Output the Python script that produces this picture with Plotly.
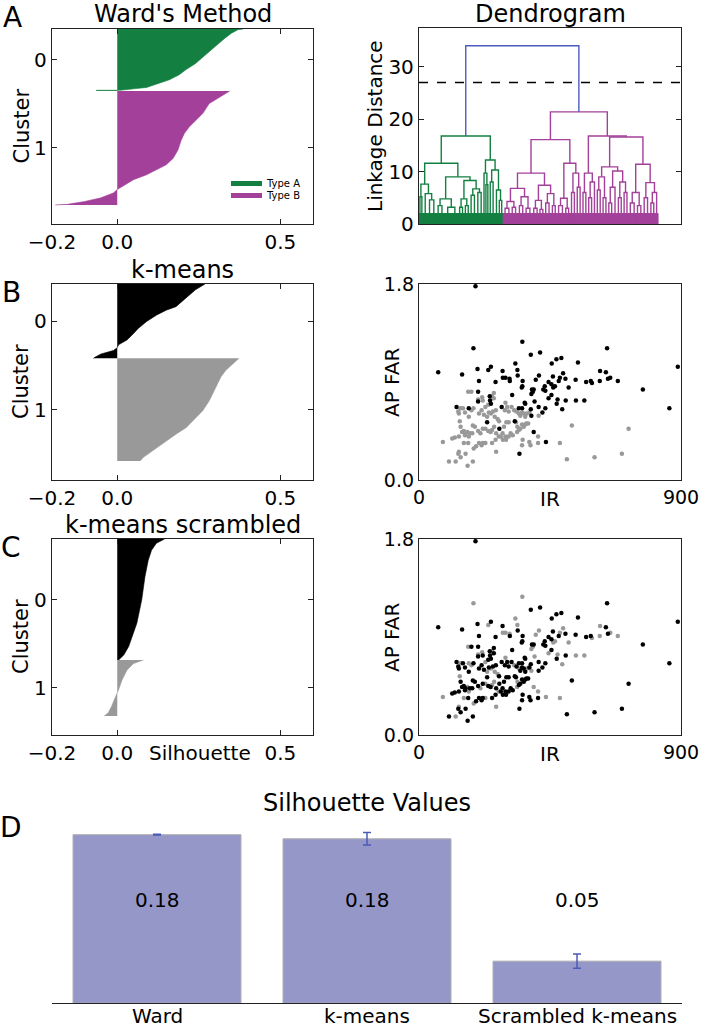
import plotly.graph_objects as go

W, H = 704, 1028
FONT = "DejaVu Sans"

GREEN = "#138042"
MAGENTA = "#a3419a"
BLUE = "#4a5cc0"
GRAY = "#999999"
BAR_COLOR = "#9597c9"
ERR_COLOR = "#4a5ab8"

# ---------------- silhouette profiles (rank within cluster, silhouette value) ----------------
WARD_SIZES = [88, 162]
WARD_C0_RANK = [0, 1, 6, 13, 25, 37, 49, 58, 65, 72, 77, 83, 85, 87, 87, 88]
WARD_C0_SIL = [0.386, 0.37, 0.35, 0.33, 0.30, 0.27, 0.24, 0.21, 0.19, 0.16, 0.13, 0.09, 0.05, 0.01, -0.064, -0.064]
WARD_C1_RANK = [0, 8, 18, 32, 41, 51, 60, 70, 84, 96, 105, 112, 119, 126, 134, 140, 145, 152, 157, 161, 162]
WARD_C1_SIL = [0.345, 0.315, 0.282, 0.262, 0.241, 0.221, 0.206, 0.196, 0.186, 0.171, 0.15, 0.12,
               0.09, 0.05, 0.019, 0.0, -0.012, -0.052, -0.10, -0.152, -0.19]

KM_SIZES = [105, 145]
KM_C0_RANK = [0, 8, 20, 32, 37, 44, 53, 63, 70, 79, 86, 90, 94, 96, 99, 104, 105]
KM_C0_SIL = [0.269, 0.24, 0.21, 0.18, 0.15, 0.12, 0.09, 0.064, 0.05, 0.03, 0.004, 0.0, -0.012, -0.03, -0.05, -0.07, -0.073]
KM_C1_RANK = [0, 8, 17, 26, 41, 60, 74, 84, 98, 107, 117, 131, 140, 145]
KM_C1_SIL = [0.373, 0.353, 0.333, 0.318, 0.302, 0.282, 0.262, 0.241, 0.211, 0.181, 0.15, 0.11, 0.08, 0.07]

SCR_SIZES = [171, 79]
SCR_C0_RANK = [0, 6, 16, 30, 53, 86, 119, 133, 152, 164, 171]
SCR_C0_SIL = [0.145, 0.12, 0.105, 0.095, 0.085, 0.075, 0.06, 0.05, 0.035, 0.02, 0.004]
SCR_C1_RANK = [0, 5, 14, 28, 42, 49, 56, 66, 75, 78, 79]
SCR_C1_SIL = [0.08, 0.05, 0.03, 0.015, 0.004, -0.002, -0.008, -0.018, -0.028, -0.04, -0.04]

SIL_YMAX = 277

# ---------------- dendrogram (height, left, right); ints = groups of leaves ----------------
GREEN_TREE = [16.8,
              [11.6,
               [7.6, [5.2, 2, 2], [5.8, 5, [4.6, 4, 5]]],
               [9.0,
                [4.8, [3.5, 4, 4], [3.2, 8, 7]],
                [8.3, [4.8, [3.2, 3, 3], [3.5, 3, 3]], [6.7, [5.5, 3, 4], [6.0, 3, 4]]]]],
              [12.2,
               [9.7, 2, [7.5, 2, 2]],
               [10.3, [8.0, 3, 3], [6.5, 4, [4.5, 2, 3]]]]]
MAGENTA_TREE = [21.4,
                [16.1,
                 [9.7,
                  [6.8, [4.3, [3.0, 4, 4], [3.2, 3, 4]], [5.2, [3.5, 4, 3], [3.0, 4, 4]]],
                  [7.4, [4.5, [3.0, 4, 3], [2.8, 3, 3]], [5.8, [4.0, 3, 4], [3.5, 3, 3]]]],
                 [11.6,
                  [4.9, [3.5, 4, 4], [3.0, 3, 3]],
                  [9.7, [6.0, 3, 3], [7.0, 3, 3]]]],
                [16.8,
                 [9.7, [6.0, 3, 3], [8.0, [5.0, 3, 3], 3]],
                 [16.6,
                  [10.9,
                   [9.0, [6.5, 3, 3], [5.0, 3, 3]],
                   [10.1, [7.0, [4.0, 3, 3], 4], [8.0, [5.0, 3, 3], [6.0, 3, 3]]]],
                  [11.4,
                   [6.0, [4.0, 4, 4], [3.5, 3, 4]],
                   [7.9, [5.0, 3, 4], [6.0, [4.0, 3, 3], 3]]]]]]
ROOT_HEIGHT = 34.0
CUT_HEIGHT = 27.0
GRASS_H = 2.0
DENDRO_XMAX = 2740
DENDRO_YMAX = 37.4

# ---------------- scatter data: IR vs AP FAR ----------------
KM0_IR = [194, 66, 148, 187, 201, 206, 203, 238, 247, 287, 288, 297, 311, 312, 263, 331, 338, 339, 355, 355,
          356, 384, 416, 401, 412, 456, 472, 489, 460, 461, 467, 480, 484, 495, 503, 455, 445, 432, 427, 434,
          514, 546, 538, 574, 590, 594, 622, 642, 649, 657, 646, 683, 621, 769, 860, 889, 388, 394, 391, 386,
          397, 411, 424, 434, 445, 455, 473, 476, 492, 504, 539, 568, 365, 363, 343, 354, 384, 386, 353, 320,
          284, 243, 244, 247, 234, 203, 171, 129, 276, 329, 394, 436, 345]
KM0_FAR = [1.78, 0.99, 0.97, 1.21, 1.02, 0.91, 0.81, 1.01, 1.04, 1.00, 0.94, 0.94, 0.93, 0.91, 0.90, 1.07, 1.01, 0.96, 1.27, 0.86,
           0.91, 1.15, 1.17, 0.92, 0.96, 1.07, 1.11, 1.12, 0.95, 0.85, 0.86, 0.91, 0.94, 0.98, 0.93, 0.88, 0.90, 0.86, 0.83, 0.82,
           0.85, 1.08, 0.92, 0.90, 0.91, 0.89, 1.00, 0.99, 0.93, 0.94, 1.21, 0.91, 0.91, 0.83, 0.66, 1.04, 0.83, 0.83, 0.81, 0.79,
           0.72, 0.67, 0.62, 0.66, 0.75, 0.78, 0.70, 0.74, 0.65, 0.73, 0.73, 0.73, 0.70, 0.71, 0.66, 0.66, 0.65, 0.59, 0.85, 0.78,
           0.67, 0.77, 0.73, 0.70, 0.53, 0.72, 0.66, 0.67, 0.47, 0.54, 0.44, 0.35, 0.24]
KM0_SCR = [0, 0, 0, 1, 0, 0, 0, 1, 0, 0, 1, 1, 1, 0, 0, 1, 1, 0, 1, 0,
           0, 0, 0, 1, 1, 0, 0, 0, 0, 1, 1, 0, 1, 1, 0, 0, 0, 0, 0, 0,
           1, 0, 0, 0, 0, 1, 1, 0, 0, 1, 0, 1, 1, 0, 0, 0, 0, 0, 1, 1,
           1, 0, 0, 0, 1, 0, 0, 1, 1, 0, 1, 1, 0, 0, 0, 0, 0, 1, 0, 0,
           0, 0, 0, 0, 0, 0, 1, 0, 0, 0, 1, 1, 0]

KM1_IR = [169, 180, 203, 217, 219, 238, 251, 257, 257, 228, 137, 135, 143, 151, 158, 171, 180, 187, 206, 215,
          223, 234, 240, 247, 254, 260, 264, 270, 275, 297, 303, 295, 308, 318, 327, 335, 343, 348, 354, 360,
          365, 371, 379, 375, 140, 143, 148, 154, 160, 166, 158, 171, 175, 185, 192, 203, 211, 219, 228, 238,
          246, 251, 258, 265, 274, 281, 287, 292, 300, 308, 82, 114, 123, 137, 154, 169, 183, 188, 196, 206,
          215, 219, 228, 251, 263, 288, 299, 308, 338, 343, 348, 354, 360, 365, 369, 337, 333, 103, 126, 135,
          137, 143, 160, 167, 185, 265, 356, 379, 383, 409, 409, 411, 484, 525, 508, 603, 697, 720, 354, 315,
          297, 322]
KM1_FAR = [0.81, 0.81, 0.74, 0.76, 0.73, 0.69, 0.77, 0.80, 0.75, 0.67, 0.61, 0.63, 0.66, 0.66, 0.62, 0.58, 0.64, 0.66, 0.61, 0.64,
           0.60, 0.58, 0.62, 0.61, 0.63, 0.58, 0.64, 0.56, 0.54, 0.71, 0.67, 0.64, 0.63, 0.67, 0.64, 0.63, 0.61, 0.59, 0.62, 0.61,
           0.58, 0.61, 0.62, 0.52, 0.54, 0.49, 0.44, 0.45, 0.43, 0.44, 0.41, 0.40, 0.43, 0.50, 0.49, 0.45, 0.43, 0.47, 0.47, 0.45,
           0.44, 0.46, 0.49, 0.43, 0.40, 0.40, 0.43, 0.49, 0.53, 0.53, 0.35, 0.38, 0.39, 0.40, 0.34, 0.34, 0.43, 0.29, 0.31, 0.34,
           0.32, 0.34, 0.34, 0.34, 0.37, 0.37, 0.37, 0.40, 0.49, 0.46, 0.47, 0.51, 0.49, 0.51, 0.52, 0.44, 0.53, 0.17, 0.17, 0.24,
           0.26, 0.21, 0.24, 0.13, 0.17, 0.26, 0.37, 0.35, 0.32, 0.40, 0.34, 0.59, 0.34, 0.50, 0.19, 0.21, 0.24, 0.47, 0.32, 0.43,
           0.40, 0.41]
KM1_SCR = [1, 0, 1, 1, 0, 0, 1, 0, 0, 1, 0, 0, 1, 0, 0, 0, 1, 0, 0, 0,
           0, 1, 0, 1, 0, 1, 0, 1, 0, 1, 0, 0, 0, 0, 1, 0, 1, 0, 0, 0,
           0, 1, 0, 0, 1, 0, 0, 0, 0, 1, 0, 1, 0, 0, 0, 0, 1, 0, 1, 0,
           0, 1, 1, 0, 1, 0, 0, 0, 0, 0, 1, 0, 0, 0, 1, 0, 0, 1, 0, 0,
           0, 0, 1, 0, 0, 0, 0, 0, 1, 0, 0, 0, 0, 0, 0, 1, 0, 0, 1, 0,
           1, 0, 0, 0, 0, 1, 0, 0, 0, 1, 0, 0, 1, 0, 0, 0, 0, 0, 0, 0,
           0, 0]

# ---------------- bar chart ----------------
BAR_LABELS = ["Ward", "k-means", "Scrambled k-means"]
BAR_MEANS = [0.184, 0.1795, 0.046]
BAR_ERR = [0.0005, 0.0068, 0.0077]
BAR_TEXT_Y = 0.1125


def fx(p):
    return p / W


def fy(p):
    return 1 - p / H


fig = go.Figure()


def sil(rank, vals, offset, color, n):
    fig.add_trace(go.Scatter(
        x=vals, y=[offset + r for r in rank], mode="lines", fill="tozerox",
        fillcolor=color, line=dict(color=color, width=0.6),
        xaxis="x" + n, yaxis="y" + n, hoverinfo="skip", showlegend=False))


sil(WARD_C0_RANK, WARD_C0_SIL, 0, GREEN, "")
sil(WARD_C1_RANK, WARD_C1_SIL, WARD_SIZES[0], MAGENTA, "")
sil(KM_C0_RANK, KM_C0_SIL, 0, "black", "3")
sil(KM_C1_RANK, KM_C1_SIL, KM_SIZES[0], GRAY, "3")
sil(SCR_C0_RANK, SCR_C0_SIL, 0, "black", "5")
sil(SCR_C1_RANK, SCR_C1_SIL, SCR_SIZES[0], GRAY, "5")


def build(node, start, xs, ys, gx, gy):
    if isinstance(node, int):
        x0, x1 = 10 * start, 10 * (start + node)
        gx += [x0, x0, x1, x1, None]
        gy += [0, GRASS_H, GRASS_H, 0, None]
        return (x0 + x1) / 2, GRASS_H, start + node
    h, left, right = node
    xl, hl, nxt = build(left, start, xs, ys, gx, gy)
    xr, hr, nxt = build(right, nxt, xs, ys, gx, gy)
    xs += [xl, xl, xr, xr, None]
    ys += [hl, h, h, hr, None]
    return (xl + xr) / 2, h, nxt


gxs, gys, ggx, ggy = [], [], [], []
xg, hg, nxt = build(GREEN_TREE, 0, gxs, gys, ggx, ggy)
mxs, mys, mgx, mgy = [], [], [], []
xm, hm, nxt = build(MAGENTA_TREE, nxt, mxs, mys, mgx, mgy)

for gx_, gy_, col in [(ggx, ggy, GREEN), (mgx, mgy, MAGENTA)]:
    fig.add_trace(go.Scatter(x=gx_, y=gy_, mode="lines", fill="toself", fillcolor=col,
                             line=dict(color=col, width=1), xaxis="x2", yaxis="y2",
                             hoverinfo="skip", showlegend=False))
for xs_, ys_, col in [(gxs, gys, GREEN), (mxs, mys, MAGENTA)]:
    fig.add_trace(go.Scatter(x=xs_, y=ys_, mode="lines", line=dict(color=col, width=1.4),
                             xaxis="x2", yaxis="y2", hoverinfo="skip", showlegend=False))
fig.add_trace(go.Scatter(x=[xg, xg, xm, xm], y=[hg, ROOT_HEIGHT, ROOT_HEIGHT, hm], mode="lines",
                         line=dict(color=BLUE, width=1.4), xaxis="x2", yaxis="y2",
                         hoverinfo="skip", showlegend=False))
fig.add_trace(go.Scatter(x=[0, DENDRO_XMAX], y=[CUT_HEIGHT, CUT_HEIGHT], mode="lines",
                         line=dict(color="black", width=1.3, dash="dash"), xaxis="x2", yaxis="y2",
                         hoverinfo="skip", showlegend=False))

mk = dict(size=4.5, line=dict(width=0))
fig.add_trace(go.Scatter(x=KM1_IR, y=KM1_FAR, mode="markers", marker=dict(color=GRAY, **mk),
                         xaxis="x4", yaxis="y4", hoverinfo="skip", showlegend=False))
fig.add_trace(go.Scatter(x=KM0_IR, y=KM0_FAR, mode="markers", marker=dict(color="black", **mk),
                         xaxis="x4", yaxis="y4", hoverinfo="skip", showlegend=False))

all_ir = KM0_IR + KM1_IR
all_far = KM0_FAR + KM1_FAR
all_scr = KM0_SCR + KM1_SCR
for lab, col in [(1, GRAY), (0, "black")]:
    fig.add_trace(go.Scatter(
        x=[a for a, s in zip(all_ir, all_scr) if s == lab],
        y=[b for b, s in zip(all_far, all_scr) if s == lab],
        mode="markers", marker=dict(color=col, **mk),
        xaxis="x6", yaxis="y6", hoverinfo="skip", showlegend=False))

fig.add_trace(go.Bar(x=list(range(len(BAR_LABELS))), y=BAR_MEANS, width=0.8,
                     marker=dict(color=BAR_COLOR, line=dict(color="#b0b0b0", width=1)),
                     error_y=dict(type="data", array=BAR_ERR, color=ERR_COLOR, thickness=1.5, width=4),
                     xaxis="x7", yaxis="y7", hoverinfo="skip", showlegend=False))

# ---------------- axes ----------------
tick_font = dict(family=FONT, size=20, color="black")
base = dict(showgrid=False, zeroline=False, showline=True, linecolor="#222222", linewidth=1.3,
            mirror="ticks", ticks="inside", ticklen=5, tickwidth=1, tickcolor="#222222",
            tickfont=tick_font, automargin=False, layer="above traces")

SIL_X = [52, 313]
RIGHT_X = [419, 681]
ROWS = {"A": [29, 224], "B": [284, 480], "C": [539, 735]}


def dom_x(a):
    return [fx(a[0]), fx(a[1])]


def dom_y(a):
    return [fy(a[1]), fy(a[0])]


sil_x = dict(base, range=[-0.2, 0.6], tickvals=[-0.2, 0.0, 0.5], ticktext=["\u22120.2", "0.0", "0.5"])


def sil_y(sizes):
    return dict(base, range=[SIL_YMAX, 0], tickvals=[sizes[0] / 2, sizes[0] + sizes[1] / 2],
                ticktext=["0", "1"])


sc_font = dict(family=FONT, size=19, color="black")
sc_x = dict(base, range=[0, 900], tickvals=[0, 900], ticktext=["0", "900"], tickfont=sc_font)
sc_y = dict(base, range=[0, 1.8], tickvals=[0, 1.8], ticktext=["0.0", "1.8"], tickfont=sc_font)

layout = dict(
    template="none",
    width=W, height=H, autosize=False, margin=dict(l=0, r=0, t=0, b=0, pad=0),
    paper_bgcolor="white", plot_bgcolor="white", showlegend=False,
    font=dict(family=FONT, color="black"),
    xaxis=dict(sil_x, domain=dom_x(SIL_X), anchor="y"),
    yaxis=dict(sil_y(WARD_SIZES), domain=dom_y(ROWS["A"]), anchor="x"),
    xaxis2=dict(base, domain=dom_x(RIGHT_X), anchor="y2", range=[0, DENDRO_XMAX],
                showticklabels=False, ticks=""),
    yaxis2=dict(base, domain=dom_y([28, 224]), anchor="x2", range=[0, DENDRO_YMAX],
                tickvals=[0, 10, 20, 30]),
    xaxis3=dict(sil_x, domain=dom_x(SIL_X), anchor="y3"),
    yaxis3=dict(sil_y(KM_SIZES), domain=dom_y(ROWS["B"]), anchor="x3"),
    xaxis4=dict(sc_x, domain=dom_x(RIGHT_X), anchor="y4"),
    yaxis4=dict(sc_y, domain=dom_y(ROWS["B"]), anchor="x4"),
    xaxis5=dict(sil_x, domain=dom_x(SIL_X), anchor="y5"),
    yaxis5=dict(sil_y(SCR_SIZES), domain=dom_y(ROWS["C"]), anchor="x5"),
    xaxis6=dict(sc_x, domain=dom_x(RIGHT_X), anchor="y6"),
    yaxis6=dict(sc_y, domain=dom_y(ROWS["C"]), anchor="x6"),
    xaxis7=dict(domain=dom_x([52, 682]), anchor="y7", range=[-0.5, 2.5],
                showticklabels=False,
                showline=True, linecolor="#222222", linewidth=1.3, ticks="", showgrid=False,
                zeroline=False, automargin=False),
    yaxis7=dict(domain=dom_y([820, 1003.3]), anchor="x7", range=[0, 0.2], visible=False,
                automargin=False),
)
fig.update_layout(**layout)

# ---------------- text ----------------
ann = []


def text(t, x, y, size, angle=0, xanchor="center"):
    ann.append(dict(text=t, x=fx(x), y=fy(y), xref="paper", yref="paper", showarrow=False,
                    textangle=angle, xanchor=xanchor, yanchor="middle",
                    font=dict(family=FONT, size=size, color="black")))


for letter, x, y in [("A", 12, 17), ("B", 11, 292), ("C", 11, 547), ("D", 11, 827)]:
    text(letter, x, y, 28)
text("Ward's Method", 182.5, 14, 24)
text("Dendrogram", 550, 14, 24)
text("k-means", 182.5, 270, 24)
text("k-means scrambled", 182.5, 525, 24)
text("Silhouette Values", 367, 803, 24)
for yc in [126.5, 382, 637]:
    text("Cluster", 21, yc, 21, angle=-90)
text("Linkage Distance", 375, 126, 20, angle=-90)
text("AP FAR", 392, 382, 20, angle=-90)
text("AP FAR", 392, 637, 20, angle=-90)
text("IR", 550, 499, 20)
text("IR", 550, 754, 20)
text("Silhouette", 200, 753, 20)
text("Type A", 264, 183.5, 10, xanchor="left")
text("Type B", 264, 195.5, 10, xanchor="left")

for i, (m, lab) in enumerate(zip(BAR_MEANS, BAR_LABELS)):
    ann.append(dict(text=f"{m:.2f}", x=i, y=BAR_TEXT_Y, xref="x7", yref="y7", showarrow=False,
                    font=dict(family=FONT, size=20, color="black")))
    ann.append(dict(text=lab, x=i, y=fy(1016), xref="x7", yref="paper", showarrow=False,
                    yanchor="middle", font=dict(family=FONT, size=20, color="black")))

fig.update_layout(annotations=ann)

fig.update_layout(shapes=[
    dict(type="rect", xref="paper", yref="paper", x0=fx(231), x1=fx(262), y0=fy(186), y1=fy(181),
         fillcolor=GREEN, line=dict(width=0)),
    dict(type="rect", xref="paper", yref="paper", x0=fx(231), x1=fx(262), y0=fy(198), y1=fy(193),
         fillcolor=MAGENTA, line=dict(width=0)),
])

fig.write_html("out.html", config={"displayModeBar": False},
               post_script="document.body.style.margin='0';document.body.style.overflow='hidden';")
